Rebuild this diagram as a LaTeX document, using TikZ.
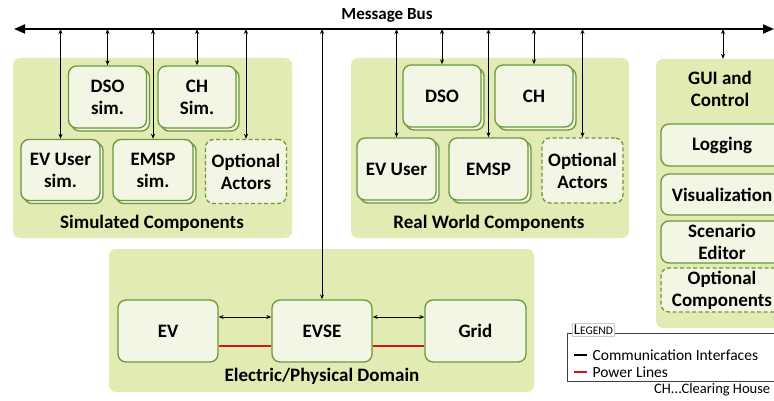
\documentclass[tikz,border=0pt]{standalone}
\usepackage{fontspec}
\setmainfont{Carlito}
\usetikzlibrary{arrows.meta,shadows}
\definecolor{panelfill}{RGB}{226,235,180}
\definecolor{boxfill}{RGB}{243,246,228}
\definecolor{boxdraw}{RGB}{104,152,56}
\definecolor{powerred}{RGB}{210,20,20}
\begin{document}
\begin{tikzpicture}[x=1pt,y=-1pt,>={Stealth[length=5pt,width=4pt]},font=\bfseries\fontsize{19}{22}\selectfont]
  \tikzset{panel/.style={fill=panelfill, draw=none, rounded corners=7pt, inner sep=0pt},
    comp/.style={draw=boxdraw, fill=boxfill, line width=1.3pt, rounded corners=8pt, align=center, inner sep=0pt},
    stacked/.style={comp, copy shadow={shadow xshift=3pt, shadow yshift=-3pt}},
    optional/.style={comp, dashed, dash pattern=on 4pt off 2.5pt},
    comm/.style={<->, line width=0.9pt},
    power/.style={powerred, line width=2pt},
    legtext/.style={black, font=\fontsize{15.5}{17}\selectfont}}
  \useasboundingbox (0,0) rectangle (774,401);
  \clip (0,0) rectangle (774,401);
  % message bus
  \coordinate (busL) at (14,29);
  \coordinate (busR) at (774,29);
  \draw[line width=1.8pt, {Triangle[length=11pt,width=9pt]}-{Triangle[length=11pt,width=9pt]}] (busL) -- (busR);
  \node[font=\bfseries\fontsize{17}{20}\selectfont] (buslabel) at (387,15) {Message Bus};
  % panels
  \node[panel, minimum width=279pt, minimum height=180pt] (simpanel) at (152.5,148) {};
  \node[panel, minimum width=278pt, minimum height=180pt] (realpanel) at (490,148) {};
  \node[panel, minimum width=134pt, minimum height=269pt] (guipanel) at (723,193.5) {};
  \node[panel, minimum width=425pt, minimum height=143pt] (elpanel) at (321.5,320.5) {};
  \node (simlabel) at (152,223) {Simulated Components};
  \node (reallabel) at (489,223) {Real World Components};
  \node[align=center] (guilabel) at (720,89) {GUI and\\Control};
  \node (ellabel) at (322,376) {Electric/Physical Domain};
  % simulated components
  \node[stacked, minimum width=78pt, minimum height=62pt] (dsosim) at (107.5,97) {DSO\\sim.};
  \node[stacked, minimum width=78pt, minimum height=62pt] (chsim) at (197,97) {CH\\Sim.};
  \node[stacked, minimum width=79pt, minimum height=61pt] (evusim) at (60.5,170) {EV User\\sim.};
  \node[stacked, minimum width=80pt, minimum height=61pt] (emspsim) at (153,170) {EMSP\\sim.};
  \node[optional, minimum width=81pt, minimum height=64pt] (optsim) at (246,171.5) {Optional\\Actors};
  % real world components
  \node[stacked, minimum width=78pt, minimum height=62pt] (dso) at (442,96) {DSO};
  \node[stacked, minimum width=78pt, minimum height=62pt] (ch) at (534,96) {CH};
  \node[stacked, minimum width=79pt, minimum height=62pt] (evu) at (396.5,169) {EV User};
  \node[stacked, minimum width=79pt, minimum height=62pt] (emsp) at (488.5,169) {EMSP};
  \node[optional, minimum width=81pt, minimum height=65pt] (optreal) at (582.5,170.5) {Optional\\Actors};
  % gui and control
  \node[comp, minimum width=122pt, minimum height=42pt] (logging) at (722,145) {Logging};
  \node[comp, minimum width=122pt, minimum height=41pt] (visual) at (722,194.5) {Visualization};
  \node[comp, minimum width=122pt, minimum height=42pt] (editor) at (722,242) {Scenario\\Editor};
  \node[optional, minimum width=122pt, minimum height=44pt] (optgui) at (722,290) {Optional\\Components};
  % electric domain
  \node[comp, minimum width=100pt, minimum height=62pt] (ev) at (168,331) {EV};
  \node[comp, minimum width=100pt, minimum height=62pt] (evse) at (322,331) {EVSE};
  \node[comp, minimum width=101pt, minimum height=62pt] (grid) at (475.5,331) {Grid};
  % communication to bus
  \foreach \n in {evusim,dsosim,emspsim,chsim,optsim,evu,dso,emsp,ch,optreal,evse,guipanel}
    \draw[comm] (\n.north) -- (\n.north |- busL);
  \draw[comm] ([yshift=14pt]ev.east) -- ([yshift=14pt]evse.west);
  \draw[comm] ([yshift=14pt]evse.east) -- ([yshift=14pt]grid.west);
  \draw[power] ([yshift=-15pt]ev.east) -- ([yshift=-15pt]evse.west);
  \draw[power] ([yshift=-15pt]evse.east) -- ([yshift=-15pt]grid.west);
  % legend
  \draw[line width=0.7pt, draw=black!75] (567,333) rectangle (790,381);
  \node[fill=white, draw=black!20, line width=0.5pt, inner sep=1.5pt, anchor=south west, font=\fontsize{15}{14}\selectfont] (legtitle) at (572,336) {L{\fontsize{11.5}{14}\selectfont EGEND}};
  \coordinate (keycomm) at (574,355);
  \coordinate (keypower) at (574,372);
  \draw[line width=1.3pt] (keycomm) -- ++(13,0) node[right, legtext, inner sep=5pt] (commtext) {Communication Interfaces};
  \draw[power, line width=1.3pt] (keypower) -- ++(13,0) node[right, legtext, inner sep=5pt] (powertext) {Power Lines};
  \node[anchor=west, legtext, font=\fontsize{14.5}{16}\selectfont, inner sep=0pt] (chnote) at (654,390) {CH...Clearing House};
\end{tikzpicture}
\end{document}
